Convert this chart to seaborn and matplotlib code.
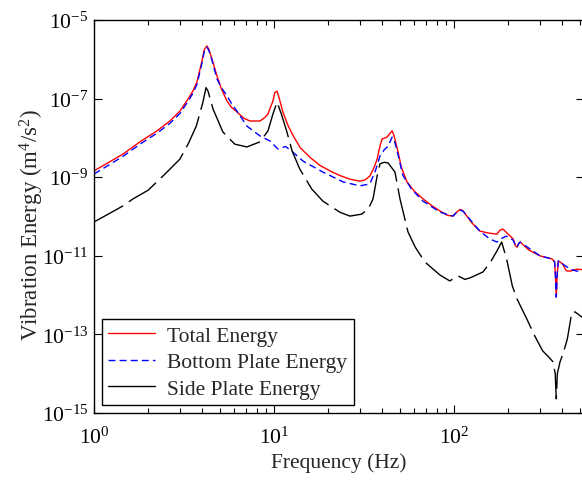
import numpy as np
import pandas as pd
import seaborn as sns
import matplotlib.pyplot as plt
from matplotlib.lines import Line2D
from matplotlib.ticker import NullLocator, LogFormatterSciNotation

# data: frequency (Hz) and log10 of vibration energy
f_total = [1.0, 1.45, 1.8, 2.24, 2.64, 3.0, 3.33, 3.55, 3.73, 3.98, 4.1, 4.24, 4.35, 4.52,
           4.82, 5.1, 5.48, 5.8, 6.23, 6.8, 7.36, 8.36, 8.9, 9.26, 9.6, 9.87, 10.1, 10.4,
           10.7, 11.2, 12.0, 12.8, 14.0, 15.8, 18.0, 20.5, 23.0, 26.4, 30.0, 32.0, 34.1,
           36.0, 37.4, 38.6, 39.8, 42.4, 45.3, 46.5, 48.9, 51.0, 54.8, 60.0, 67.3, 75.0,
           83.6, 92.0, 98.7, 104, 108, 112, 125, 139, 155, 173, 180, 187, 200, 213, 220,
           224, 228, 233, 260, 300, 330, 350, 362, 366, 370, 374, 380, 400, 420, 441, 482,
           540]
e_total = [-8.84, -8.41, -8.10, -7.82, -7.57, -7.32, -7.01, -6.80, -6.58, -6.04, -5.75,
           -5.66, -5.75, -5.99, -6.42, -6.75, -7.06, -7.22, -7.34, -7.50, -7.57, -7.57,
           -7.48, -7.39, -7.20, -7.06, -6.85, -6.81, -7.00, -7.34, -7.70, -7.95, -8.25,
           -8.49, -8.70, -8.84, -8.95, -9.05, -9.10, -9.07, -8.97, -8.75, -8.54, -8.25,
           -8.03, -7.98, -7.82, -7.95, -8.36, -8.75, -9.12, -9.35, -9.55, -9.72, -9.86,
           -9.97, -9.99, -9.88, -9.82, -9.85, -10.15, -10.37, -10.42, -10.45, -10.35,
           -10.32, -10.45, -10.57, -10.75, -10.78, -10.70, -10.65, -10.85, -11.00, -11.05,
           -11.08, -11.15, -11.50, -12.05, -11.50, -11.13, -11.20, -11.38, -11.39, -11.34,
           -11.36]

f_bottom = [1.0, 1.45, 1.8, 2.24, 2.64, 3.0, 3.33, 3.55, 3.73, 3.98, 4.1, 4.24, 4.35,
            4.52, 4.82, 5.1, 5.48, 5.8, 6.23, 7.07, 8.36, 9.5, 10.5, 11.6, 12.5, 14.5,
            18.7, 24.2, 30.0, 34.1, 36.5, 38.8, 41.0, 43.1, 45.3, 46.5, 48.0, 52.0, 58.0,
            67.3, 83.6, 98.7, 104, 108, 112, 139, 158, 173, 185, 196, 213, 220, 224, 228,
            233, 300, 350, 362, 366, 370, 374, 380, 441, 482, 540]
e_bottom = [-8.92, -8.47, -8.16, -7.88, -7.63, -7.38, -7.07, -6.86, -6.64, -6.10, -5.80,
            -5.69, -5.78, -6.02, -6.50, -6.72, -6.93, -7.12, -7.32, -7.70, -7.95, -8.08,
            -8.28, -8.22, -8.33, -8.59, -8.87, -9.12, -9.22, -9.17, -8.85, -8.46, -8.30,
            -8.21, -7.98, -8.05, -8.28, -8.95, -9.30, -9.61, -9.89, -9.99, -9.88, -9.84,
            -9.86, -10.37, -10.57, -10.65, -10.55, -10.50, -10.60, -10.75, -10.78, -10.70,
            -10.65, -11.00, -11.08, -11.15, -11.50, -12.05, -11.50, -11.13, -11.34,
            -11.39, -11.38]

f_side = [1.0, 1.45, 1.65, 2.0, 2.48, 3.0, 3.33, 3.7, 4.03, 4.19, 4.3, 4.58, 5.2, 6.06,
          7.07, 8.36, 9.26, 9.87, 10.4, 11.0, 11.8, 12.6, 13.9, 16.2, 18.7, 23.2, 26.4,
          30.7, 33.5, 35.5, 37.4, 38.8, 41.0, 43.1, 47.0, 50.1, 55.5, 60.9, 69.0, 83.6,
          94.8, 105, 115, 123, 145, 160, 173, 184, 196, 211, 224, 254, 281, 311, 340,
          355, 365, 370, 375, 388, 403, 426, 452, 471, 514, 540]
e_side = [-10.14, -9.73, -9.55, -9.33, -8.92, -8.54, -8.16, -7.70, -7.09, -6.72, -6.81,
          -7.26, -7.85, -8.16, -8.23, -8.10, -7.82, -7.39, -7.09, -7.40, -7.85, -8.33,
          -8.79, -9.30, -9.61, -9.89, -9.99, -9.94, -9.80, -9.55, -8.97, -8.66, -8.62,
          -8.64, -8.87, -9.55, -10.39, -10.78, -11.16, -11.49, -11.64, -11.51, -11.60,
          -11.56, -11.41, -11.15, -10.88, -10.65, -11.08, -11.77, -12.10, -12.61, -13.04,
          -13.42, -13.60, -13.70, -14.00, -14.64, -14.00, -13.70, -13.50, -13.12, -12.43,
          -12.43, -12.56, -12.60]

labels = ['Total Energy', 'Bottom Plate Energy', 'Side Plate Energy']

df = pd.concat([
    pd.DataFrame({'f': f_total, 'E': np.power(10.0, e_total), 'kind': labels[0]}),
    pd.DataFrame({'f': f_bottom, 'E': np.power(10.0, e_bottom), 'kind': labels[1]}),
    pd.DataFrame({'f': f_side, 'E': np.power(10.0, e_side), 'kind': labels[2]}),
])

sns.set_style('white')
plt.rcParams.update({'font.family': ['Liberation Serif', 'DejaVu Serif'],
                     'mathtext.fontset': 'custom',
                     'mathtext.rm': 'Liberation Serif',
                     'mathtext.it': 'Liberation Serif:italic',
                     'axes.unicode_minus': False,
                     'font.size': 15})

fig = plt.figure(figsize=(5.82, 4.81), dpi=100)
ax = fig.add_axes([94/582, 1 - 414/481, 490/582, 393/481])

colors = {labels[0]: '#ff0000', labels[1]: '#0000ff', labels[2]: 'black'}
styles = {labels[0]: '-', labels[1]: (0, (5, 3)), labels[2]: (0, (24, 5))}
for k in labels:
    d = df[df['kind'] == k]
    sns.lineplot(data=d, x='f', y='E', ax=ax, color=colors[k], linestyle=styles[k],
                 lw=1.0, estimator=None, sort=True, legend=False)

ax.set_xscale('log')
ax.set_yscale('log')
ax.set_xlim(1, 10 ** (490 / 180))
ax.set_ylim(1e-15, 1e-5)
ax.set_yticks([1e-15, 1e-13, 1e-11, 1e-9, 1e-7, 1e-5])
ax.yaxis.set_minor_locator(NullLocator())
ax.yaxis.set_major_formatter(LogFormatterSciNotation())

for s in ax.spines.values():
    s.set_color('black')
    s.set_linewidth(1.0)
ax.tick_params(which='both', direction='in', bottom=True, left=True, top=True,
               right=True, colors='black', labelsize=15.5)
ax.tick_params(which='major', length=6, width=0.8)
ax.tick_params(which='minor', length=3.5, width=0.8)
ax.tick_params(axis='x', pad=10)
ax.tick_params(axis='y', pad=4)

ax.set_xlabel('Frequency (Hz)', fontsize=15.5, labelpad=3)
ax.set_ylabel('Vibration Energy (m$^4$/s$^2$)', fontsize=16.5)
ax.yaxis.set_label_coords(-0.097, 0.48)

handles = [Line2D([], [], color=colors[k], lw=1.0,
                  linestyle='-' if k != labels[1] else (0, (5, 3))) for k in labels]
leg = ax.legend(handles, labels, loc='lower left', bbox_to_anchor=(0.016, 0.02),
                borderaxespad=0, fontsize=15.5, handlelength=2.15, labelspacing=0.3,
                fancybox=False, framealpha=1, edgecolor='black', borderpad=0.3,
                handletextpad=0.6)
leg.get_frame().set_linewidth(1.0)

fig.savefig('out.png', dpi=100)
